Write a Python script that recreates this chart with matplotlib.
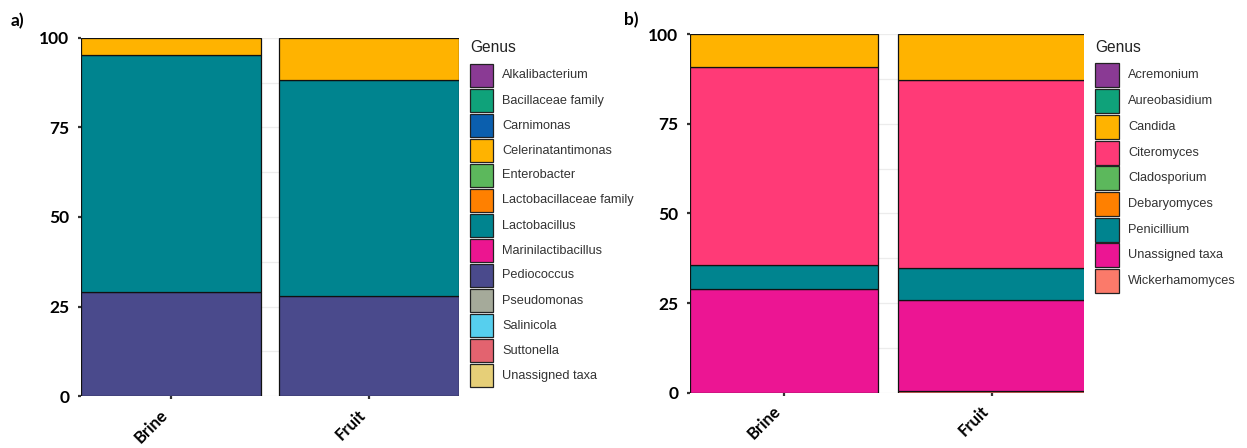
import matplotlib
matplotlib.use("Agg")
import numpy as np
import matplotlib.pyplot as plt
from matplotlib.patches import Rectangle

# Samples shared by both panels
samples = ["Brine", "Fruit"]

# a) bacterial genera (relative abundance, %)
bact_genera = ["Alkalibacterium", "Bacillaceae family", "Carnimonas", "Celerinatantimonas",
               "Enterobacter", "Lactobacillaceae family", "Lactobacillus", "Marinilactibacillus",
               "Pediococcus", "Pseudomonas", "Salinicola", "Suttonella", "Unassigned taxa"]
bact_brine = [0, 0, 0, 4.8, 0, 0, 66.2, 0, 29.0, 0, 0, 0, 0]
bact_fruit = [0, 0, 0, 11.8, 0, 0, 60.2, 0, 28.0, 0, 0, 0, 0]
bact_colors = ["#8a3a94", "#0fa27a", "#0b5fae", "#ffb300", "#5cb85c", "#ff8000", "#00848f",
               "#ec1590", "#4a4a8c", "#a5aa9a", "#56cfee", "#e3636f", "#e6cf78"]

# b) fungal genera (relative abundance, %)
fung_genera = ["Acremonium", "Aureobasidium", "Candida", "Citeromyces", "Cladosporium",
               "Debaryomyces", "Penicillium", "Unassigned taxa", "Wickerhamomyces"]
fung_brine = [0, 0, 9.1, 55.3, 0, 0, 6.7, 28.9, 0]
fung_fruit = [0, 0, 12.8, 52.4, 0, 0, 9.0, 25.4, 0.4]
fung_colors = ["#8a3a94", "#0fa27a", "#ffb300", "#ff3a77", "#5cb85c", "#ff8000", "#00848f",
               "#ec1593", "#fb7a6a"]

W, H = 1247, 448
fig = plt.figure(figsize=(W / 100, H / 100), dpi=100)


def px_box(x0, y0, x1, y1):
    # pixel box (top-left origin) -> figure fraction rect
    return [x0 / W, 1 - y1 / H, (x1 - x0) / W, (y1 - y0) / H]


def stacked(ax, genera, brine, fruit, colors, width, xlim):
    vals = np.array([brine, fruit])
    x = np.arange(len(samples))
    bottom = np.zeros(len(samples))
    # last genus in the legend sits at the bottom of the stack
    for i in reversed(range(len(genera))):
        v = vals[:, i]
        if v.sum() > 0:
            ax.bar(x, v, width=width, bottom=bottom, color=colors[i],
                   edgecolor="#111111", linewidth=0.9, zorder=3)
        bottom += v
    ax.set_xlim(*xlim)
    ax.set_ylim(0, 100)
    ax.set_yticks([0, 25, 50, 75, 100])
    ax.set_yticks(np.arange(12.5, 100, 25), minor=True)
    ax.grid(axis="y", which="both", color="#ececec", lw=0.9, zorder=0)
    ax.set_xticks(x)
    ax.set_xticklabels(samples, rotation=45, ha="right", va="top")
    for s in ax.spines.values():
        s.set_visible(False)
    ax.tick_params(axis="both", which="major", length=2.5, width=1.6, color="#333333",
                   labelsize=12.5, pad=6)
    ax.tick_params(axis="y", which="minor", length=0)
    ax.tick_params(axis="x", pad=5, labelsize=12)
    for lab in ax.get_xticklabels() + ax.get_yticklabels():
        lab.set_fontfamily("Lato")
        lab.set_fontweight("bold")


def legend(x0, y_title, y_first, pitch, key, genera, colors):
    fig.text(x0 / W, 1 - y_title / H, "Genus", fontsize=11.2, color="#222222",
             family="Liberation Sans", va="center", ha="left")
    for i, (g, c) in enumerate(zip(genera, colors)):
        y = y_first + i * pitch
        fig.add_artist(Rectangle((x0 / W, 1 - (y + key) / H), key / W, key / H,
                                 transform=fig.transFigure, facecolor=c,
                                 edgecolor="#222222", linewidth=0.9))
        fig.text((x0 + key + 9) / W, 1 - (y + key / 2) / H, g, fontsize=9.2,
                 color="#333333", family="Liberation Sans", va="center", ha="left")


ax_a = fig.add_axes(px_box(81, 38, 459, 396))
stacked(ax_a, bact_genera, bact_brine, bact_fruit, bact_colors, 0.909, (-0.4545, 1.4545))
legend(470, 47, 64, 25, 23, bact_genera, bact_colors)

ax_b = fig.add_axes(px_box(690, 34, 1084, 392.7))
stacked(ax_b, fung_genera, fung_brine, fung_fruit, fung_colors, 0.904, (-0.452, 1.443))
legend(1095, 47, 63.5, 25.7, 24, fung_genera, fung_colors)

fig.text(11 / W, 1 - 21 / H, "a)", fontsize=12.5, fontweight="bold", family="Lato", va="center")
fig.text(624 / W, 1 - 20 / H, "b)", fontsize=12.5, fontweight="bold", family="Lato", va="center")

fig.savefig("out.png", dpi=100)
